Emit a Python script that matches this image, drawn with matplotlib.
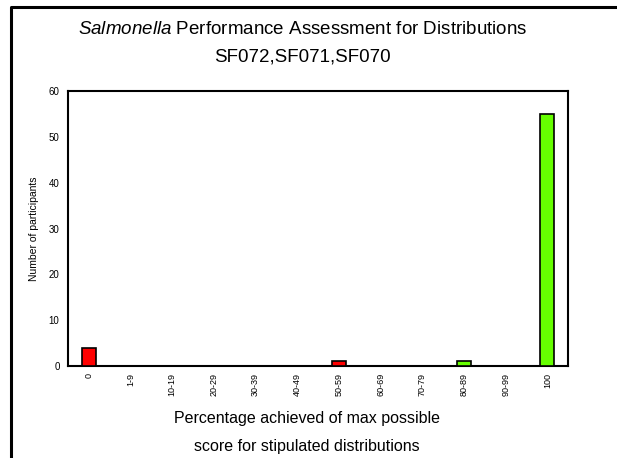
import matplotlib
matplotlib.use("Agg")
import matplotlib.pyplot as plt
from matplotlib.lines import Line2D

# data
categories = ["0", "1-9", "10-19", "20-29", "30-39", "40-49", "50-59",
              "60-69", "70-79", "80-89", "90-99", "100"]
participants = [4, 0, 0, 0, 0, 0, 1, 0, 0, 1, 0, 55]
bar_colors = ["#ff0000"] * 9 + ["#66ff00"] * 3

plt.rcParams["font.family"] = ["Liberation Sans", "DejaVu Sans"]
plt.rcParams["mathtext.fontset"] = "custom"
plt.rcParams["mathtext.rm"] = "Liberation Sans"
plt.rcParams["mathtext.it"] = "Liberation Sans:italic"

fig = plt.figure(figsize=(6.17, 4.58), dpi=100)
ax = fig.add_axes([0.110, 0.201, 0.811, 0.600])

x = range(len(categories))
ax.bar(x, participants, width=0.34, color=bar_colors,
       edgecolor="black", linewidth=1.2, zorder=3)

ax.set_xlim(-0.5, len(categories) - 0.5)
ax.set_ylim(0, 60)
ax.set_yticks(range(0, 61, 10))
ax.set_xticks(list(x))
ax.set_xticklabels(categories, rotation=90, fontsize=6.5)
ax.tick_params(axis="y", labelsize=7, length=0, pad=6)
ax.tick_params(axis="x", length=0, pad=5)
for sp in ax.spines.values():
    sp.set_linewidth(1.5)

ax.set_ylabel("Number of participants", fontsize=7.5, labelpad=7)

# titles in figure coordinates
fig.text(0.49, 0.935, r"$\it{Salmonella}$ Performance Assessment for Distributions",
         ha="center", va="center", fontsize=13.5)
fig.text(0.49, 0.875, "SF072,SF071,SF070", ha="center", va="center", fontsize=13.5)
fig.text(0.497, 0.087, "Percentage achieved of max possible",
         ha="center", va="center", fontsize=11.5)
fig.text(0.497, 0.026, "score for stipulated distributions",
         ha="center", va="center", fontsize=11.5)

# outer frame (left and top edges only)
fig.add_artist(Line2D([0.0186, 0.0186, 1.0], [0.0, 0.9858, 0.9858],
                      transform=fig.transFigure, color="black", linewidth=2.2))

fig.savefig("out.png", dpi=100)
